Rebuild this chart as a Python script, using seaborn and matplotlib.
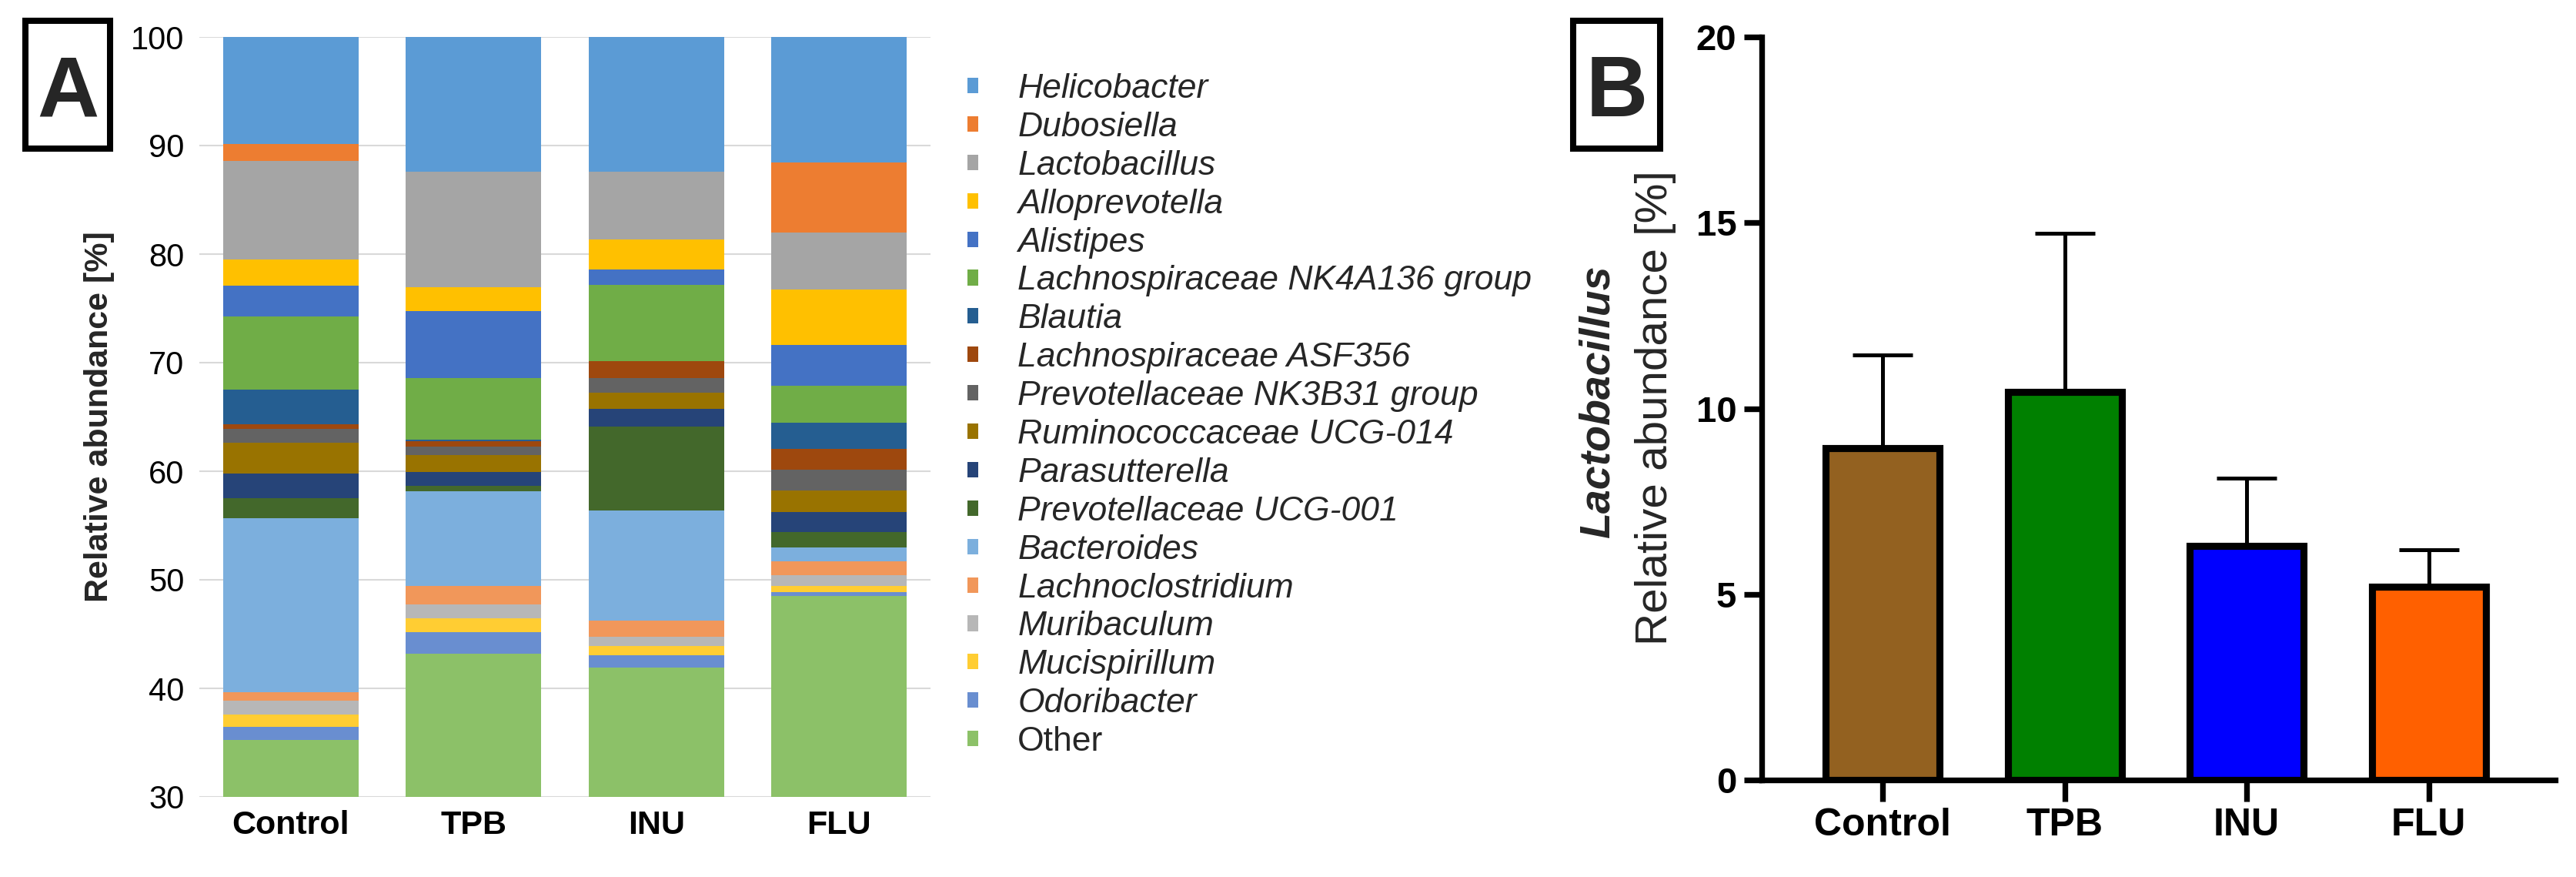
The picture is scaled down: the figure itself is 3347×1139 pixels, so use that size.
import numpy as np
import pandas as pd
import matplotlib
matplotlib.use("Agg")
import matplotlib.pyplot as plt
import matplotlib.patches as mpatches
import seaborn as sns

groups = ["Control", "TPB", "INU", "FLU"]

genera = ["Helicobacter", "Dubosiella", "Lactobacillus", "Alloprevotella", "Alistipes",
          "Lachnospiraceae NK4A136 group", "Blautia", "Lachnospiraceae ASF356",
          "Prevotellaceae NK3B31 group", "Ruminococcaceae UCG-014", "Parasutterella",
          "Prevotellaceae UCG-001", "Bacteroides", "Lachnoclostridium", "Muribaculum",
          "Mucispirillum", "Odoribacter", "Other"]

genus_colors = ["#5B9BD5", "#ED7D31", "#A5A5A5", "#FFC000", "#4472C4", "#70AD47",
                "#255E91", "#9E480E", "#636363", "#997300", "#264478", "#43682B",
                "#7CAFDD", "#F1975A", "#B7B7B7", "#FFCD33", "#698ED0", "#8CC168"]

# relative abundance [%] of each genus, same order as genera
control = [9.84, 1.55, 9.12, 2.42, 2.78, 6.80, 3.19, 0.42, 1.28, 2.79, 2.31, 1.86,
           15.97, 0.82, 1.24, 1.13, 1.24, 35.24]
tpb = [12.42, 0.0, 10.61, 2.21, 6.19, 5.66, 0.16, 0.46, 0.78, 1.59, 1.24, 0.51,
       8.76, 1.70, 1.29, 1.24, 2.01, 43.17]
inu = [12.42, 0.0, 6.23, 2.78, 1.39, 7.01, 0.05, 1.55, 1.34, 1.49, 1.65, 7.73,
       10.15, 1.49, 0.83, 0.82, 1.13, 41.94]
flu = [11.59, 6.44, 5.21, 5.15, 3.76, 3.35, 2.42, 1.96, 1.90, 1.96, 1.86, 1.44,
       1.29, 1.23, 0.98, 0.57, 0.36, 48.53]

# panel B: Lactobacillus mean and SD
lacto_mean = [8.94, 10.44, 6.31, 5.20]
lacto_sd = [2.50, 4.27, 1.81, 0.99]
bar_colors = ["#936120", "#008000", "#0000FF", "#FF6000"]

sns.set_theme(style="white")
plt.rcParams["font.family"] = ["Liberation Sans", "DejaVu Sans"]

W, H = 3347, 1139
fig = plt.figure(figsize=(W / 100, H / 100), dpi=100)

def fx(px):
    return px / W

def fy(py):
    return 1 - py / H

# ---------- panel A ----------
axA = fig.add_axes([fx(259), fy(1035), fx(1209) - fx(259), fy(48) - fy(1035)])

abund = pd.DataFrame({"Control": control, "TPB": tpb, "INU": inu, "FLU": flu}, index=genera)
# top of each segment = sum of the genus and everything stacked below it
tops = abund[::-1].cumsum()[::-1]

for g, c in zip(genera, genus_colors):
    sns.barplot(x=groups, y=tops.loc[g, groups].values, color=c, saturation=1,
                width=0.74, errorbar=None, edgecolor="none", linewidth=0, ax=axA)

axA.set_ylim(30, 100)
axA.set_xlim(-0.5, 3.5)
axA.set_yticks(range(30, 101, 10))
axA.yaxis.grid(True, color="#D9D9D9", linewidth=1.5)
axA.xaxis.grid(False)
axA.set_axisbelow(True)
for s in axA.spines.values():
    s.set_visible(False)
axA.tick_params(axis="y", length=0, labelsize=30, pad=14, labelcolor="black")
axA.tick_params(axis="x", length=0, labelsize=31, pad=12, labelcolor="black")
for t in axA.get_xticklabels():
    t.set_fontweight("bold")
axA.set_ylabel("")
fig.text(fx(129), fy(541), "Relative abundance [%]", rotation=90, ha="center", va="center",
         fontsize=31, fontweight="bold")

handles = [mpatches.Patch(facecolor=c, edgecolor="none") for c in genus_colors]
leg = fig.legend(handles, genera, loc="upper left", bbox_to_anchor=(fx(1257), fy(95)),
                 frameon=False, fontsize=32, handlelength=0.32, handleheight=0.32,
                 handletextpad=1.15, labelspacing=0.2, borderpad=0, borderaxespad=0)
for t in leg.get_texts():
    if t.get_text() != "Other":
        t.set_fontstyle("italic")

# ---------- panel B ----------
axB = fig.add_axes([fx(2289), fy(1013), fx(3320) - fx(2289), fy(48) - fy(1013)])
sns.barplot(x=groups, y=lacto_mean, hue=groups, palette=bar_colors, legend=False,
            saturation=1, width=0.625, errorbar=None, edgecolor="black", linewidth=6.6,
            zorder=3, ax=axB)
axB.errorbar(x=np.arange(len(groups)), y=lacto_mean, yerr=lacto_sd, fmt="none",
             ecolor="black", elinewidth=3.6, capsize=28, capthick=3.6, zorder=2)
axB.set_ylim(0, 20)
axB.set_xlim(-0.665, 3.695)
axB.set_yticks([0, 5, 10, 15, 20])
sns.despine(ax=axB)
for side in ["left", "bottom"]:
    axB.spines[side].set_linewidth(5.3)
    axB.spines[side].set_color("black")
axB.tick_params(axis="y", length=16.5, width=5.3, labelsize=34, pad=7, left=True,
                colors="black")
axB.tick_params(axis="x", length=20, width=5.3, labelsize=36, pad=6, bottom=True,
                colors="black")
for t in axB.get_xticklabels() + axB.get_yticklabels():
    t.set_fontweight("bold")
axB.set_ylabel("")
fig.text(fx(2077), fy(522), "Lactobacillus", rotation=90, ha="center", va="center",
         fontsize=40, fontweight="bold", fontstyle="italic")
fig.text(fx(2151), fy(530), "Relative abundance [%]", rotation=90, ha="center",
         va="center", fontsize=42)

# ---------- panel letters ----------
for (x0, x1, y0, y1, letter, lx) in [(33, 143, 27, 193, "A", 88), (2044, 2157, 27, 193, "B", 2101)]:
    fig.patches.append(mpatches.Rectangle((fx(x0), fy(y1)), fx(x1) - fx(x0), fy(y0) - fy(y1),
                                          transform=fig.transFigure, fill=False,
                                          linewidth=5.8, edgecolor="black"))
    fig.text(fx(lx), fy(151), letter, ha="center", va="baseline", fontsize=80,
             fontweight="bold")

fig.savefig("out.png", dpi=100)
